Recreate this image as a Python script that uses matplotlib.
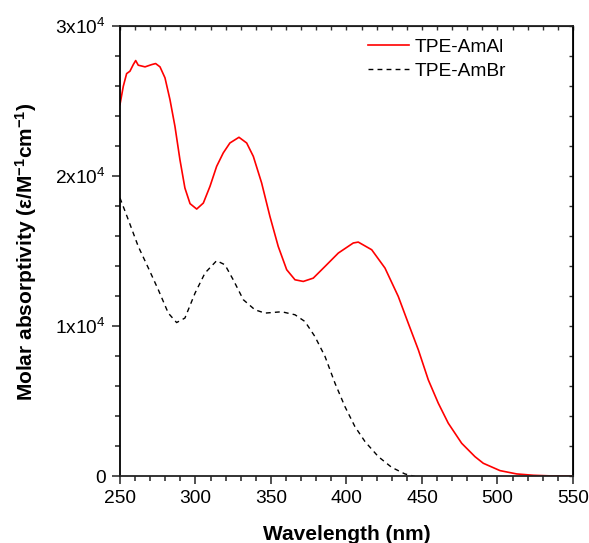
import numpy as np
import matplotlib
matplotlib.use("Agg")
import matplotlib.pyplot as plt
from matplotlib.ticker import MultipleLocator, FixedLocator

plt.rcParams['font.family'] = ['Liberation Sans', 'DejaVu Sans']
plt.rcParams['mathtext.fontset'] = 'custom'
plt.rcParams['mathtext.rm'] = 'Liberation Sans'
plt.rcParams['mathtext.bf'] = 'Liberation Sans:bold'

# TPE-AmAl (red, solid)
wl_al = [250, 252.2, 254.4, 256.6, 258.8, 260.4, 262.1, 266.6, 271, 273.6,
         276.5, 279.8, 283.1, 286.4, 289.7, 293, 296.4, 300.8, 305.2, 309.6,
         314, 318.4, 322.8, 328.8, 333.9, 338.3, 343.8, 349.3, 354.8, 360.4,
         365.9, 371.4, 378, 385.8, 394.6, 404.5, 407.8, 416.7, 425.5, 434.3,
         440.9, 447.6, 454.2, 460.8, 467.4, 476.3, 485.1, 490.6, 501.7, 512.7,
         523.8, 535, 549]
eps_al = [24770, 25990, 26830, 26990, 27430, 27700, 27390, 27280, 27430, 27500,
          27280, 26550, 25100, 23320, 21100, 19210, 18170, 17810, 18210, 19320,
          20650, 21550, 22210, 22590, 22210, 21320, 19550, 17320, 15320, 13770,
          13100, 12990, 13210, 13990, 14880, 15550, 15610, 15100, 13880, 11990,
          10210, 8430, 6430, 4880, 3550, 2210, 1320, 880, 390, 170,
          80, 40, 30]

# TPE-AmBr (black, dashed)
wl_br = [250, 255.5, 262.1, 268.8, 275.4, 282, 287.5, 293, 299.7, 306.3,
         314, 319.5, 325, 331.7, 339.4, 346, 357.1, 365.9, 372.5, 379.1,
         385.8, 392.4, 399, 405.6, 412.3, 421.1, 429.9, 438.7, 445.4]
eps_br = [18550, 17100, 15320, 13880, 12430, 10880, 10250, 10550, 12210, 13550,
          14370, 14100, 13100, 11770, 11100, 10880, 10970, 10770, 10320, 9320,
          7990, 6210, 4650, 3320, 2320, 1320, 610, 170, 0]

yticks = [0, 10000, 20000, 30000]
ylabels = ['0', r'$\mathregular{1x10^4}$', r'$\mathregular{2x10^4}$', r'$\mathregular{3x10^4}$']

fig = plt.figure(figsize=(5.89, 5.43), dpi=100)
ax = fig.add_axes([0.2037, 0.1225, 0.7691, 0.8296])

ax.plot(wl_al, eps_al, '-', color='#ff0000', lw=1.2, label='TPE-AmAl')
ax.plot(wl_br, eps_br, '--', color='black', lw=1.0, dashes=(3.5, 3), label='TPE-AmBr')

ax.set_xlim(250, 550)
ax.set_ylim(0, 30000)
ax.xaxis.set_major_locator(MultipleLocator(50))
ax.xaxis.set_minor_locator(MultipleLocator(10))
ax.yaxis.set_major_locator(FixedLocator(yticks))
ax.yaxis.set_minor_locator(MultipleLocator(2000))
ax.set_yticklabels(ylabels)

ax.tick_params(which='both', direction='out', top=False, right=False,
               labelsize=13.8, color='#333333', width=1.2)
ax.tick_params(which='major', length=6, pad=4)
ax.tick_params(which='minor', length=3.5)

# kleine Innen-Ticks oben und rechts
ax2 = ax.secondary_xaxis('top')
ax2.xaxis.set_major_locator(MultipleLocator(50))
ax2.xaxis.set_minor_locator(MultipleLocator(10))
ax2.tick_params(which='both', direction='in', labeltop=False, length=3, color='#333333', width=1.0)
ax3 = ax.secondary_yaxis('right')
ax3.yaxis.set_major_locator(FixedLocator(yticks))
ax3.yaxis.set_minor_locator(MultipleLocator(2000))
ax3.tick_params(which='both', direction='in', labelright=False, length=3, color='#333333', width=1.0)

for s in ax.spines.values():
    s.set_linewidth(1.3)
    s.set_color('#222222')
ax.spines['left'].set_color('black')
ax.spines['right'].set_color('black')

ax.set_xlabel('Wavelength (nm)', fontsize=15, fontweight='bold', labelpad=13)
ax.set_ylabel(r'Molar absorptivity (ε/M$\mathregular{^{-1}}$cm$\mathregular{^{-1}}$)',
              fontsize=15, fontweight='bold', labelpad=12)

ax.legend(loc='upper left', bbox_to_anchor=(0.547, 0.972), frameon=False,
          borderpad=0, borderaxespad=0,
          fontsize=13.8, handlelength=2.15, handletextpad=0.3, labelspacing=0.32)

fig.savefig('out.png', dpi=100)
